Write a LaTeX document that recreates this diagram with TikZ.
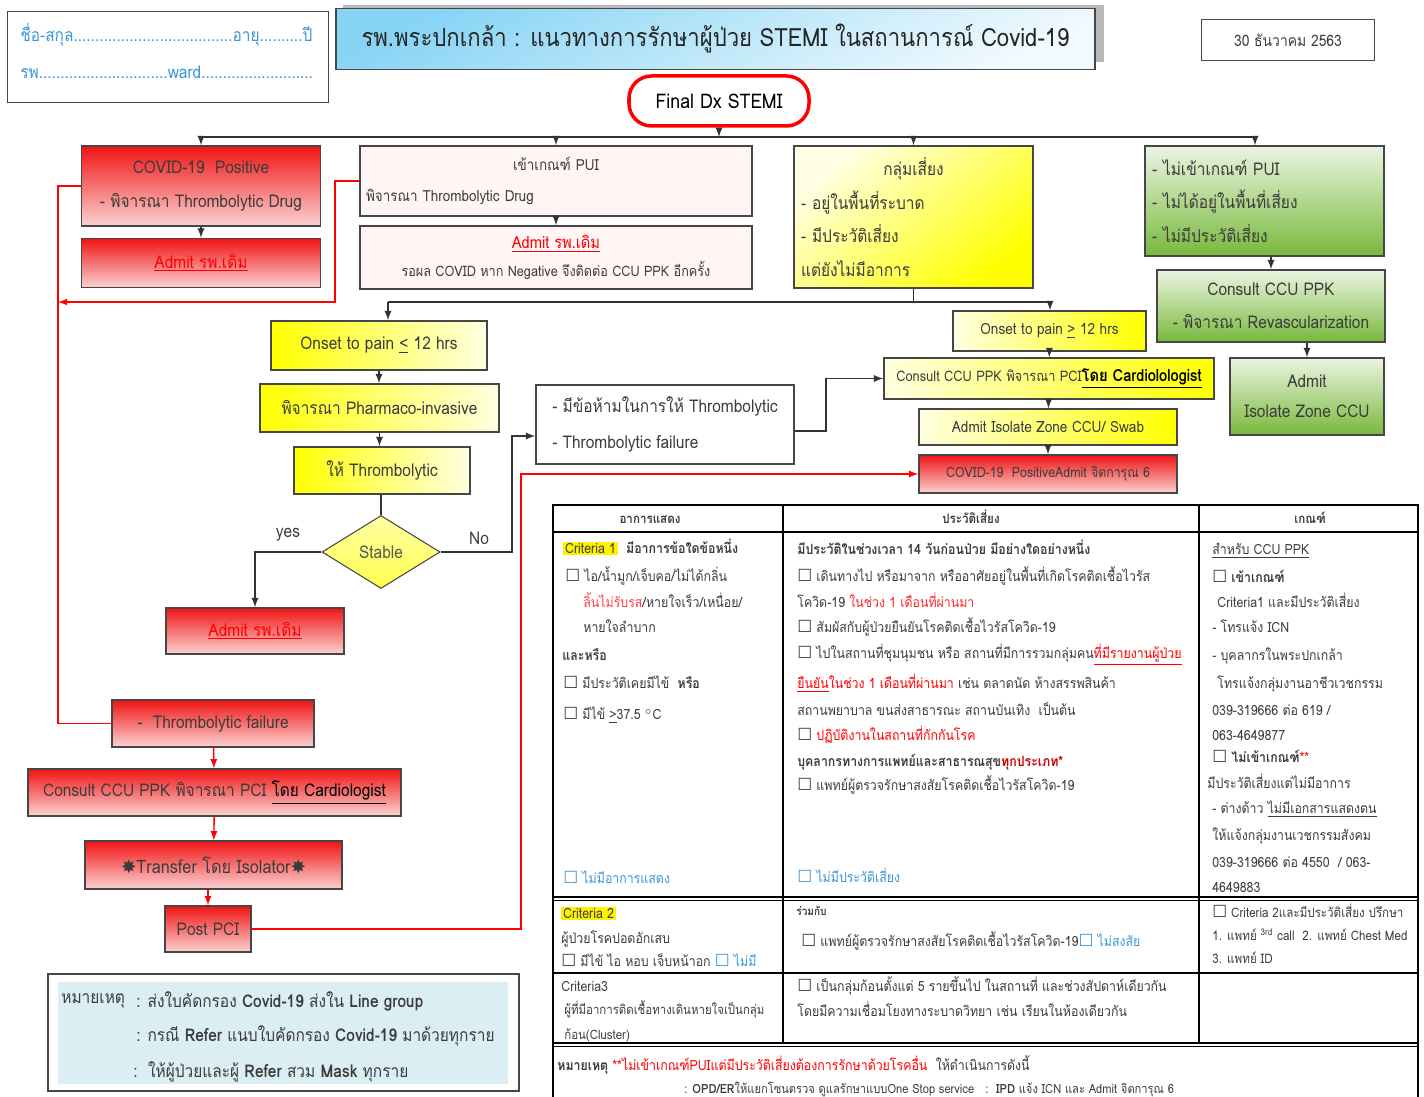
\documentclass[tikz,border=0pt]{standalone}
\usepackage{fontspec}
\usepackage{tikz}
\usetikzlibrary{shapes.geometric}
\setmainfont{Loma}[Script=Thai, FakeStretch=0.88]
\newfontfamily\symf{DejaVu Sans}
\lineskiplimit=-100pt
\newcommand\cb{{\symf\fontsize{9.5}{9}\selectfont ☐}}
\newcommand\fsz[2]{\fontsize{#1}{#2}\selectfont}
\definecolor{boxred}{RGB}{240,20,20}
\definecolor{boxpink}{RGB}{252,210,210}
\definecolor{titleblue}{RGB}{135,212,245}
\definecolor{noteblue}{RGB}{218,238,243}
\definecolor{txtblue}{RGB}{60,150,215}
\definecolor{dkgreen}{RGB}{120,185,60}
\definecolor{txtgray}{RGB}{60,60,60}
\definecolor{linegray}{RGB}{70,70,70}
\tikzset{
  box/.style={draw=linegray, line width=0.8pt, inner sep=2pt, text=txtgray, align=center},
  redbox/.style={box, top color=boxred, bottom color=boxpink},
  puibox/.style={box, fill=red!4},
  yelL/.style={box, left color=yellow, right color=yellow!12},
  yelR/.style={box, left color=yellow!12, right color=yellow},
  grnbox/.style={box, top color=dkgreen!15, bottom color=dkgreen},
  sz/.style 2 args={minimum width=#1*0.02cm, minimum height=#2*0.02cm},
  link/.style={draw=black!80, line width=0.85pt},
  redlink/.style={draw=red, line width=0.8pt},
  plain/.style={anchor=west, inner sep=0pt, text=txtgray},
  cell/.style={anchor=west, inner sep=0pt, font=\fsz{8}{9}, text height=1.6ex, text depth=0.4ex, text=txtgray},
}
\begin{document}
\begin{tikzpicture}[x=0.02cm, y=-0.02cm]
        \useasboundingbox (0,0) rectangle (1424,1097);

        %Header
        \node[draw=linegray, line width=1pt, sz={321}{91}] (info) at (168,57) {};
        \node[plain, text=txtblue, font=\fsz{10}{12}] (name) at (20,35) {ชื่อ-สกุล.....................................อายุ..........ปี};
        \node[plain, text=txtblue, font=\fsz{10}{12}] (ward) at (20,72) {รพ..............................ward..........................};
        \fill[gray!55] (343,5) rectangle (1104,62);
        \node[draw=linegray, line width=1pt, top color=titleblue, bottom color=titleblue!12, shading angle=25, sz={759}{61}, font=\fsz{14.3}{18}, text=black!85] (title) at (715.5,39) {รพ.พระปกเกล้า : แนวทางการรักษาผู้ป่วย STEMI ในสถานการณ์ Covid-19};
        \node[draw=linegray, line width=0.8pt, sz={173}{41}, font=\fsz{9}{10}, text=txtgray] (date) at (1288,40) {30 ธันวาคม 2563};
        \node[draw=red, line width=2pt, rounded corners=0.45cm, sz={180}{50}, font=\fsz{11.5}{12}] (dx) at (719,101) {Final Dx STEMI};

        %First row
        \node[redbox, sz={239}{80}, font=\fsz{10}{19.8}] (covid) at (201,186) {COVID-19~~Positive\\- พิจารณา Thrombolytic Drug};
        \node[redbox, sz={239}{49}, font=\fsz{10}{12}] (adm1) at (201,263) {{\color{red}\underline{Admit รพ.เดิม}}};
        \node[puibox, sz={392}{70}, text width=7.6cm, align=left, font=\fsz{8.7}{18}] (pui) at (556,181) {\makebox[\linewidth]{เข้าเกณฑ์ PUI}\\พิจารณา Thrombolytic Drug};
        \node[puibox, sz={392}{63}, font=\fsz{8.2}{16}] (adm2) at (556,257.5) {{\fsz{9.5}{16}\color{red}\underline{Admit รพ.เดิม}}\\รอผล COVID หาก Negative จึงติดต่อ CCU PPK อีกครั้ง};
        \node[box, top color=yellow!10, bottom color=yellow, shading angle=40, sz={239}{142}, text width=4.5cm, align=left, font=\fsz{10}{19}] (risk) at (913.5,217) {\makebox[\linewidth]{กลุ่มเสี่ยง}\\- อยู่ในพื้นที่ระบาด\\- มีประวัติเสี่ยง\\แต่ยังไม่มีอาการ};
        \node[grnbox, sz={239}{110}, text width=4.5cm, align=left, font=\fsz{10}{19}] (green) at (1264.5,201) {- ไม่เข้าเกณฑ์ PUI\\- ไม่ได้อยู่ในพื้นที่เสี่ยง\\- ไม่มีประวัติเสี่ยง};
        \node[grnbox, sz={228}{72}, font=\fsz{10}{19}] (gcons) at (1271,306) {Consult CCU PPK\\- พิจารณา Revascularization};
        \node[grnbox, sz={154}{77}, font=\fsz{10}{17}] (giso) at (1307,396.5) {Admit\\Isolate Zone CCU};

        %Left branch
        \node[yelL, sz={216}{49}, font=\fsz{10}{12}] (onL) at (379,345.5) {Onset to pain \underline{<} 12 hrs};
        \node[yelL, sz={239}{48}, font=\fsz{10}{12}] (pharm) at (379.5,408) {พิจารณา Pharmaco-invasive};
        \node[yelL, sz={176}{47}, font=\fsz{10}{12}] (thromb) at (382,470.5) {ให้ Thrombolytic};
        \node[diamond, draw=linegray, line width=0.6pt, top color=yellow!35, bottom color=yellow!70, inner sep=0pt, sz={118}{73}, font=\fsz{10}{12}, text=black!65] (stable) at (381,552) {Stable};
        \node[redbox, sz={178}{46}, font=\fsz{10}{12}] (admY) at (255,631) {{\color{red}\underline{Admit รพ.เดิม}}};
        \node[box, fill=white, sz={258}{79}, align=left, font=\fsz{10}{20}] (contra) at (665,424.5) {- มีข้อห้ามในการให้ Thrombolytic\\- Thrombolytic failure};
        \node[font=\fsz{10}{12}, text=txtgray] (yes) at (288,535) {yes};
        \node[font=\fsz{10}{12}, text=txtgray] (no) at (479,538) {No};

        %Right branch
        \node[yelR, sz={193}{40}, font=\fsz{8.8}{10}] (onR) at (1049.5,331) {Onset to pain \underline{>} 12 hrs};
        \node[yelR, sz={330}{41}, font=\fsz{8.3}{10}] (cons) at (1049,378.5) {Consult CCU PPK พิจารณา PCI{\color{black}\fsz{9.5}{10}\bfseries\underline{โดย Cardiolologist}}};
        \node[yelR, sz={258}{36}, font=\fsz{8.8}{10}] (swab) at (1048,427) {Admit Isolate Zone CCU/ Swab};
        \node[redbox, sz={258}{38}, font=\fsz{8}{10}] (covR) at (1048,474) {COVID-19~~PositiveAdmit จิตการุณ 6};

        %Bottom left
        \node[redbox, sz={202}{47}, font=\fsz{10}{12}] (tfail) at (213,723.5) {-~~Thrombolytic failure};
        \node[redbox, sz={373}{47}, font=\fsz{10}{12}] (ccons) at (214.5,792.5) {Consult CCU PPK พิจารณา PCI {\color{black}\underline{โดย Cardiologist}}};
        \node[redbox, sz={257}{48}, font=\fsz{10.5}{12}] (transfer) at (213.5,865) {{\symf ✸}Transfer โดย Isolator{\symf ✸}};
        \node[redbox, sz={86}{46}, font=\fsz{10}{12}] (postpci) at (208,929) {Post PCI};

        %Connectors
        \coordinate (busL) at (201,137);
        \coordinate (busR) at (1255,137);
        \draw[link] (busL) -- (busR);
        \draw[link, -latex] (dx) -- (dx |- busL);
        \draw[link, -latex] (busL) -- (covid);
        \draw[link, -latex] (pui.north |- busL) -- (pui.north);
        \draw[link, -latex] (risk.north |- busL) -- (risk.north);
        \draw[link, -latex] (busR) -- (busR |- green.north);
        \draw[link, -latex] (covid) -- (adm1);
        \draw[link, -latex] (pui) -- (adm2);
        \draw[link, -latex] (gcons.north |- green.south) -- (gcons.north);
        \draw[link, -latex] (giso.north |- gcons.south) -- (giso.north);
        \coordinate (b2L) at (388,302);
        \coordinate (b2R) at (1050,302);
        \draw[link] (b2L) -- (b2R);
        \draw[link] (risk.south) -- (risk.south |- b2L);
        \draw[link, -latex] (b2L) -- (b2L |- onL.north);
        \draw[link, -latex] (b2R) -- (b2R |- onR.north);
        \draw[link, -latex] (onL.south) -- (onL.south |- pharm.north);
        \draw[link, -latex] (pharm.south) -- (pharm.south |- thromb.north);
        \draw[link] (stable.north |- thromb.south) -- (stable.north);
        \draw[link, -latex] (stable.west) -| (admY.north);
        \coordinate (nojoin) at (512,436);
        \draw[link, -latex] (stable.east) -| (nojoin) -- (nojoin -| contra.west);
        \coordinate (cjoin) at (826,431);
        \draw[link, -latex] (contra.east |- cjoin) -- (cjoin) |- (cons.west);
        \draw[link, -latex] (onR) -- (cons);
        \draw[link, -latex] (cons) -- (swab);
        \draw[link, -latex] (swab) -- (covR);

        %Red connectors
        \coordinate (redL) at (58,302);
        \coordinate (redM) at (335,302);
        \coordinate (redR) at (521,929);
        \draw[redlink] (covid.west) -| (redL) |- (tfail.west);
        \draw[redlink, -latex] (pui.west) -| (redM) -- (redL);
        \draw[redlink, -latex] (tfail) -- (ccons);
        \draw[redlink, -latex] (ccons) -- (transfer);
        \draw[redlink, -latex] (postpci.north |- transfer.south) -- (postpci.north);
        \draw[redlink, -latex] (postpci.east) -| (redR) |- (covR.west);

        %Note
        \node[draw=linegray, line width=1pt, sz={471}{117}] (notebox) at (283.5,1032.5) {};
        \node[fill=noteblue, sz={450}{102}] (noteback) at (283,1033) {};
        \node[plain, font=\fsz{10}{12}] (notelab) at (61,1001) {หมายเหตุ};
        \node[plain, font=\fsz{10}{12}] (note1) at (136,1001) {: ส่งใบคัดกรอง \textbf{Covid-19} ส่งใน \textbf{Line group}};
        \node[plain, font=\fsz{10}{12}] (note2) at (136,1036) {: กรณี \textbf{Refer} แนบใบคัดกรอง \textbf{Covid-19} มาด้วยทุกราย};
        \node[plain, font=\fsz{10}{12}] (note3) at (133,1072) {:~~ให้ผู้ป่วยและผู้ \textbf{Refer} สวม \textbf{Mask} ทุกราย};

        %Table
        \draw[line width=0.9pt] (553,1097) -- (553,505) -- (1418,505) -- (1418,1097);
        \draw[line width=1.2pt] (553,532) -- (1418,532);
        \draw[line width=0.9pt] (553,897) -- (1418,897) (553,900.5) -- (1418,900.5);
        \draw[line width=0.9pt] (553,973) -- (1418,973);
        \draw[line width=0.9pt] (553,1043) -- (1418,1043) (553,1046.5) -- (1418,1046.5);
        \draw[line width=0.9pt] (783,505) -- (783,1043) (1199,505) -- (1199,1043);
        \node[cell, anchor=center, font=\fsz{7.5}{9}\bfseries] (h1) at (650,518) {อาการแสดง};
        \node[cell, anchor=center, font=\fsz{7.5}{9}\bfseries] (h2) at (971,518) {ประวัติเสี่ยง};
        \node[cell, anchor=center, font=\fsz{7.5}{9}\bfseries] (h3) at (1310,518) {เกณฑ์};

        \node[cell] (c1a) at (563,548) {{\fboxsep=1pt\colorbox{yellow}{Criteria 1}}~ \textbf{มีอาการข้อใดข้อหนึ่ง}};
        \node[cell] (c1b) at (565,576) {\cb\ ไอ/น้ำมูก/เจ็บคอ/ไม่ได้กลิ่น};
        \node[cell] (c1c) at (583,602) {{\color{red!75}ลิ้นไม่รับรส}/หายใจเร็ว/เหนื่อย/};
        \node[cell] (c1d) at (583,627) {หายใจลำบาก};
        \node[cell] (c1e) at (562,655) {\textbf{และหรือ}};
        \node[cell] (c1f) at (563,683) {\cb\ มีประวัติเคยมีไข้~~\textbf{หรือ}};
        \node[cell] (c1g) at (563,714) {\cb\ มีไข้ \underline{>}37.5 $^{\circ}$C};
        \node[cell, text=txtblue] (c1h) at (563,878) {\cb\ ไม่มีอาการแสดง};

        \node[cell] (c2a) at (797,549) {\textbf{มีประวัติในช่วงเวลา 14 วันก่อนป่วย มีอย่างใดอย่างหนึ่ง}};
        \node[cell] (c2b) at (797,576) {\cb\ เดินทางไป หรือมาจาก หรืออาศัยอยู่ในพื้นที่เกิดโรคติดเชื้อไวรัส};
        \node[cell] (c2c) at (797,602) {โควิด-19 {\color{red!85}ในช่วง 1 เดือนที่ผ่านมา}};
        \node[cell] (c2d) at (797,627) {\cb\ สัมผัสกับผู้ป่วยยืนยันโรคติดเชื้อไวรัสโควิด-19};
        \node[cell] (c2e) at (797,653) {\cb\ ไปในสถานที่ชุมนุมชน หรือ สถานที่มีการรวมกลุ่มคน{\color{red}\underline{ที่มีรายงานผู้ป่วย}}};
        \node[cell] (c2f) at (797,683) {{\color{red}\underline{ยืนยัน}ในช่วง 1 เดือนที่ผ่านมา} เช่น ตลาดนัด ห้างสรรพสินค้า};
        \node[cell] (c2g) at (797,710) {สถานพยาบาล ขนส่งสาธารณะ สถานบันเทิง~~เป็นต้น};
        \node[cell] (c2h) at (797,735) {\cb\ {\color{red}ปฏิบัติงานในสถานที่กักกันโรค}};
        \node[cell] (c2i) at (797,761) {\textbf{บุคลากรทางการแพทย์และสาธารณสุข{\color{red!80!black}ทุกประเภท*}}};
        \node[cell] (c2j) at (797,785) {\cb\ แพทย์ผู้ตรวจรักษาสงสัยโรคติดเชื้อไวรัสโควิด-19};
        \node[cell, text=txtblue] (c2k) at (797,877) {\cb\ ไม่มีประวัติเสี่ยง};

        \node[cell] (c3a) at (1212,549) {\underline{สำหรับ CCU PPK}};
        \node[cell] (c3b) at (1212,577) {\cb\ \textbf{เข้าเกณฑ์}};
        \node[cell] (c3c) at (1217,602) {Criteria1 และมีประวัติเสี่ยง};
        \node[cell] (c3d) at (1212,627) {- โทรแจ้ง ICN};
        \node[cell] (c3e) at (1212,655) {- บุคลากรในพระปกเกล้า};
        \node[cell] (c3f) at (1217,683) {โทรแจ้งกลุ่มงานอาชีวเวชกรรม};
        \node[cell] (c3g) at (1212,710) {039-319666 ต่อ 619 /};
        \node[cell] (c3h) at (1212,735) {063-4649877};
        \node[cell] (c3i) at (1212,757) {\cb\ \textbf{ไม่เข้าเกณฑ์}{\color{red}**}};
        \node[cell] (c3j) at (1207,783) {มีประวัติเสี่ยงแต่ไม่มีอาการ};
        \node[cell] (c3k) at (1212,808) {- ต่างด้าว \underline{ไม่มีเอกสารแสดงตน}};
        \node[cell] (c3l) at (1212,835) {ให้แจ้งกลุ่มงานเวชกรรมสังคม};
        \node[cell] (c3m) at (1212,862) {039-319666 ต่อ 4550~ / 063-};
        \node[cell] (c3n) at (1212,887) {4649883};

        \node[cell] (r2a) at (561,913) {{\fboxsep=1pt\colorbox{yellow}{Criteria 2}}};
        \node[cell] (r2b) at (561,938) {ผู้ป่วยโรคปอดอักเสบ};
        \node[cell] (r2c) at (561,961) {\cb\ มีไข้ ไอ หอบ เจ็บหน้าอก {\color{txtblue}\cb\ ไม่มี}};
        \node[cell, font=\fsz{6.5}{8}\bfseries] (r2d) at (796,910) {ร่วมกับ};
        \node[cell] (r2e) at (801,941) {\cb\ แพทย์ผู้ตรวจรักษาสงสัยโรคติดเชื้อไวรัสโควิด-19{\color{txtblue}\cb\ ไม่สงสัย}};
        \node[cell, font=\fsz{7.5}{9}] (r2f) at (1212,912) {\cb\ Criteria 2และมีประวัติเสี่ยง ปรึกษา};
        \node[cell, font=\fsz{7.5}{9}] (r2g) at (1212,935) {1. แพทย์ \textsuperscript{3rd} call~ 2. แพทย์ Chest Med};
        \node[cell, font=\fsz{7.5}{9}] (r2h) at (1212,958) {3. แพทย์ ID};

        \node[cell] (r3a) at (561,986) {Criteria3};
        \node[cell, font=\fsz{7.4}{9}] (r3b) at (564,1009) {ผู้ที่มีอาการติดเชื้อทางเดินหายใจเป็นกลุ่ม};
        \node[cell, font=\fsz{7.4}{9}] (r3c) at (564,1034) {ก้อน(Cluster)};
        \node[cell] (r3d) at (797,986) {\cb\ เป็นกลุ่มก้อนตั้งแต่ 5 รายขึ้นไป ในสถานที่ และช่วงสัปดาห์เดียวกัน};
        \node[cell] (r3e) at (797,1011) {โดยมีความเชื่อมโยงทางระบาดวิทยา เช่น เรียนในห้องเดียวกัน};

        \node[cell] (r4a) at (557,1065) {\textbf{หมายเหตุ} {\color{red}**ไม่เข้าเกณฑ์PUIแต่มีประวัติเสี่ยงต้องการรักษาด้วยโรคอื่น}~~ให้ดำเนินการดังนี้};
        \node[cell, font=\fsz{7.2}{9}] (r4b) at (684,1088) {: \textbf{OPD/ER}ให้แยกโซนตรวจ ดูแลรักษาแบบOne Stop service~~ :~~\textbf{IPD} แจ้ง ICN และ Admit จิตการุณ 6};
\end{tikzpicture}
\end{document}
